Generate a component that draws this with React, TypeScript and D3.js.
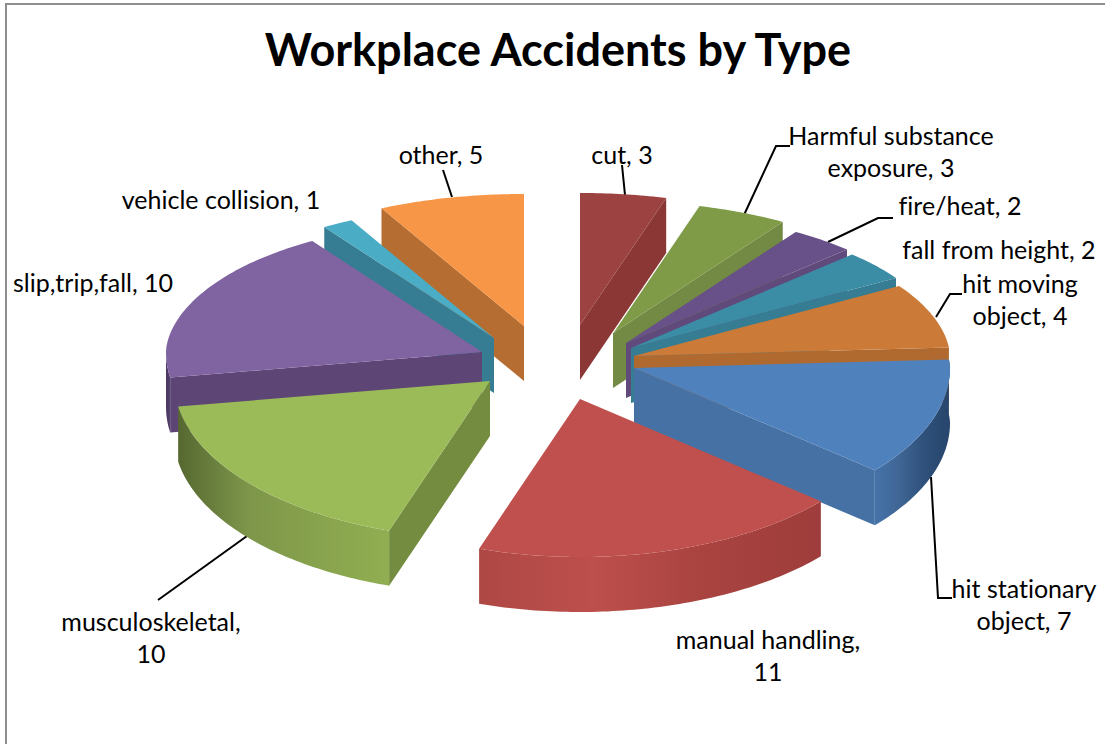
import React from "react";
import * as d3 from "d3";

// ---- data (clockwise from 12 o'clock)
const categories = ["cut", "Harmful substance exposure", "fire/heat", "fall from height", "hit moving object", "hit stationary object", "manual handling", "musculoskeletal", "slip,trip,fall", "vehicle collision", "other"];
const accidents = [3, 3, 2, 2, 4, 7, 11, 10, 10, 1, 5];

// ---- style per slice
const topColors = ["#9c4240", "#7f9b48", "#685088", "#3b8ca5", "#cb7a37", "#4f81bd", "#c0504d", "#9bbb59", "#8064a2", "#4bacc6", "#f79646"];
const faceColors = ["#8a3735", "#728a43", "#5f4a7b", "#367c92", "#b06a2f", "#4671a5", "#a8413f", "#738c40", "#5d4675", "#367d93", "#b56d31"];
const wallStops: (string[] | null)[] = [null, null, null, null, null, ["#4673aa", "#3f6594", "#2e507a", "#27456c"], ["#ae4845", "#bd4f4c", "#a84340", "#9e3d3b"], ["#566831", "#7d964a", "#88a34d", "#91ae52"], ["#4a3860", "#54406c"], null, null];

// explosion of each slice relative to the pie centre
const pieCentre = { x: 557, y: 361 };
const explodeX = [23, 56, 69, 74, 77, 77, 23, -67, -75, -63, -33];
const explodeY = [-36, -28, -18, -13, -5, 7, 38, 20, -9, -23, -35];

// projection of the tilted disc
const RX = 316, RY = 158, DEPTH = 55;
const farness = (a: number) => Math.pow(Math.max(0, Math.cos(a)), 1.5);
const rim = (a: number) => [Math.sin(a) * (RX - 50 * farness(a)), -Math.cos(a) * (RY - 26 * farness(a))];

const pieAngles = d3.pie<number>().sort(null).value((d) => d)(accidents);
const line = d3.line();

const arcPoints = (a0: number, a1: number, ax: number, ay: number, dy = 0): [number, number][] => {
  const n = Math.max(2, Math.ceil((a1 - a0) * 60));
  return d3.range(n + 1).map((i) => {
    const a = a0 + ((a1 - a0) * i) / n;
    const [x, y] = rim(a);
    return [ax + x, ay + y + dy] as [number, number];
  });
};

const slices = pieAngles.map((p, i) => {
  const ax = pieCentre.x + explodeX[i];
  const ay = pieCentre.y + explodeY[i];
  const mid = (p.startAngle + p.endAngle) / 2;
  return { i, ax, ay, a0: p.startAngle, a1: p.endAngle, mid };
}).sort((a, b) => Math.cos(b.mid) - Math.cos(a.mid));

const FONT = "Lato, Carlito, Calibri, sans-serif";
const labels: { lines: string[]; x: number; y: number }[] = [
  { lines: [`${categories[0]}, ${accidents[0]}`], x: 622, y: 164 },
  { lines: ["Harmful substance", `exposure, ${accidents[1]}`], x: 891, y: 145 },
  { lines: [`${categories[2]}, ${accidents[2]}`], x: 960, y: 215 },
  { lines: [`${categories[3]}, ${accidents[3]}`], x: 999, y: 259 },
  { lines: ["hit moving", `object, ${accidents[4]}`], x: 1020, y: 293 },
  { lines: ["hit stationary", `object, ${accidents[5]}`], x: 1024, y: 598 },
  { lines: [`${categories[6]},`, `${accidents[6]}`], x: 768, y: 649 },
  { lines: [`${categories[7]},`, `${accidents[7]}`], x: 151, y: 631 },
  { lines: [`${categories[8]}, ${accidents[8]}`], x: 93, y: 292 },
  { lines: [`${categories[9]}, ${accidents[9]}`], x: 221, y: 209 },
  { lines: [`${categories[10]}, ${accidents[10]}`], x: 441, y: 164 },
];

const leaders: [number, number][][] = [
  [[622, 165], [625, 195]],
  [[443, 170], [452, 197]],
  [[790, 146], [776, 146], [744, 215]],
  [[893, 218], [878, 218], [828, 242]],
  [[962, 294], [950, 294], [936, 317]],
  [[931, 477], [938, 598], [952, 598]],
  [[247, 536], [158, 600]],
];

export default function App() {
  return (
    <svg width={1105} height={744} style={{ position: "absolute", left: 0, top: 0, background: "#fff" }}>
      <defs>
        {slices.map((s) => {
          const stops = wallStops[s.i];
          if (!stops) return null;
          const w0 = Math.max(s.a0, Math.PI * 0.47);
          const w1 = Math.min(s.a1, Math.PI * 1.5);
          const pts = arcPoints(w0, w1, s.ax, s.ay);
          const xs = pts.map((d) => d[0]);
          return (
            <linearGradient key={s.i} id={`wall${s.i}`} gradientUnits="userSpaceOnUse" x1={d3.min(xs)} x2={d3.max(xs)} y1={0} y2={0}>
              {stops.map((c, k) => <stop key={k} offset={k / (stops.length - 1)} stopColor={c} />)}
            </linearGradient>
          );
        })}
      </defs>
      <path d="M6,744V4H1105" fill="none" stroke="#8e8e8e" strokeWidth={2} />
      <text x={558} y={66} textAnchor="middle" fontFamily={FONT} fontWeight={700} fontSize={45} fill="#000">Workplace Accidents by Type</text>
      {leaders.map((l, i) => <path key={i} d={line(l) || ""} fill="none" stroke="#000" strokeWidth={2} />)}
      {slices.map((s) => {
        const top = arcPoints(s.a0, s.a1, s.ax, s.ay);
        const hasWall = wallStops[s.i] && s.a1 > Math.PI / 2 * 0.94 && s.a0 < Math.PI * 1.5;
        const w0 = Math.max(s.a0, Math.PI * 0.47);
        const w1 = Math.min(s.a1, Math.PI * 1.5);
        const wTop = hasWall ? arcPoints(w0, w1, s.ax, s.ay) : [];
        const wBot = hasWall ? arcPoints(w0, w1, s.ax, s.ay, DEPTH).reverse() : [];
        const face = (a: number) => {
          const [x, y] = rim(a);
          return line([[s.ax, s.ay], [s.ax + x, s.ay + y], [s.ax + x, s.ay + y + DEPTH], [s.ax, s.ay + DEPTH]]) + "Z";
        };
        const showEnd = Math.sin(s.a1) > 0.01;
        const showStart = Math.sin(s.a0) < -0.01;
        const [ex, ey] = rim(s.a0);
        return (
          <g key={s.i}>
            {hasWall && <path d={line([...wTop, ...wBot]) + "Z"} fill={`url(#wall${s.i})`} />}
            {showStart && <path d={face(s.a0)} fill={faceColors[s.i]} />}
            {showEnd && <path d={face(s.a1)} fill={faceColors[s.i]} />}
            <path d={line([[s.ax, s.ay], ...top]) + "Z"} fill={topColors[s.i]} />
            {s.i === 1 && <path d={line([[s.ax, s.ay], [s.ax + ex, s.ay + ey]]) || ""} stroke="#fff" strokeWidth={1} opacity={0.8} />}
          </g>
        );
      })}
      {labels.map((l, i) => (
        <text key={i} textAnchor="middle" fontFamily={FONT} fontSize={25} fill="#000" style={{ fontVariantLigatures: "none" }}>
          {l.lines.map((t, k) => <tspan key={k} x={l.x} y={l.y + k * 32}>{t}</tspan>)}
        </text>
      ))}
    </svg>
  );
}
